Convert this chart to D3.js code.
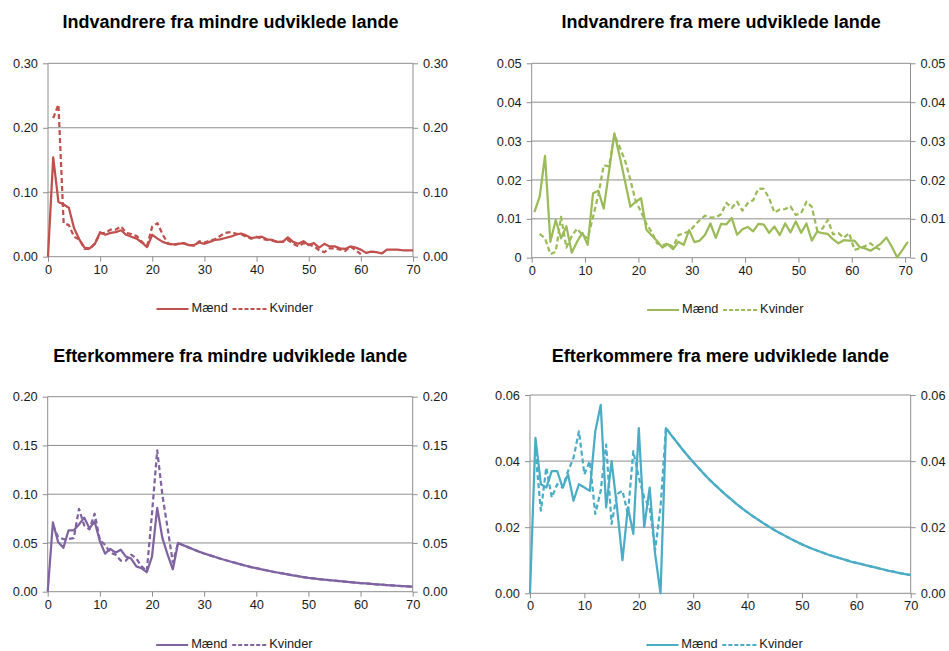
<!DOCTYPE html>
<html><head><meta charset="utf-8">
<script src="https://cdn.jsdelivr.net/npm/d3@7"></script>
<style>
html,body{margin:0;padding:0;background:#fff;}
svg{display:block;font-family:"Liberation Sans",Arial,sans-serif;}
</style></head>
<body><svg id="c" width="949" height="651"></svg>
<script>
const ages = d3.range(0, 71);
const seriesNames = ["Mænd", "Kvinder"];
const titles = [
  "Indvandrere fra mindre udviklede lande",
  "Indvandrere fra mere udviklede lande",
  "Efterkommere fra mindre udviklede lande",
  "Efterkommere fra mere udviklede lande"
];
const yTicks1 = [0, 0.10, 0.20, 0.30];
const yTicks2 = [0, 0.01, 0.02, 0.03, 0.04, 0.05];
const yTicks3 = [0, 0.05, 0.10, 0.15, 0.20];
const yTicks4 = [0, 0.02, 0.04, 0.06];
const xTicks = [0, 10, 20, 30, 40, 50, 60, 70];

// Panel 1: Indvandrere fra mindre udviklede lande
const p1Maend = [0,.154,.085,.081,.076,.044,.027,.014,.013,.020,.038,.034,.037,.038,.041,.034,.031,.028,.022,.015,.034,.028,.023,.020,.019,.020,.021,.018,.018,.022,.020,.023,.026,.027,.029,.031,.034,.036,.033,.029,.030,.031,.027,.026,.023,.023,.030,.023,.020,.024,.018,.021,.014,.020,.016,.016,.013,.012,.016,.014,.011,.006,.008,.007,.005,.011,.011,.011,.010,.010,.010];
const p1Kvinder = [null,.215,.236,.052,.049,.031,.027,.012,.012,.021,.036,.037,.042,.042,.047,.037,.035,.032,.023,.017,.047,.052,.034,.021,.018,.020,.021,.018,.017,.024,.022,.025,.027,.032,.037,.038,.036,.035,.031,.028,.031,.028,.026,.025,.023,.023,.026,.020,.016,.021,.019,.016,.010,.007,.013,.013,.011,.009,.016,.010,.004,null,null,null,null,null,null,null,null,null,null];

// Panel 2: Indvandrere fra mere udviklede lande
const p2Maend = [.0117,.0157,.0262,.0041,.0097,.0050,.0081,.0013,.0041,.0064,.0033,.0166,.0172,.0126,.0222,.0320,.0260,.0196,.0131,.0144,.0153,.0072,.0057,.0043,.0026,.0035,.0022,.0041,.0033,.0071,.0040,.0044,.0059,.0088,.0051,.0087,.0086,.0102,.0059,.0073,.0079,.0068,.0087,.0085,.0064,.0080,.0058,.0088,.0065,.0093,.0064,.0088,.0044,.0067,.0063,.0061,.0047,.0037,.0045,.0044,.0044,.0027,.0024,.0018,.0027,.0037,.0052,.0028,.0001,.0020,.0041];
const p2Kvinder = [null,.0061,.0050,.0009,.0015,.0105,.0026,.0055,.0075,.0058,.0050,.0105,.0162,.0238,.0235,.0316,.0284,.0250,.0200,.0145,.0118,.0087,.0066,.0037,.0031,.0037,.0027,.0058,.0063,.0067,.0082,.0097,.0108,.0103,.0104,.0112,.0141,.0128,.0144,.0121,.0140,.0148,.0178,.0177,.0153,.0116,.0124,.0125,.0132,.0110,.0114,.0144,.0131,.0071,.0075,.0097,.0060,.0063,.0051,.0063,.0020,.0024,.0030,.0037,.0026,.0020,null,null,null,null,null];

// Panel 3: Efterkommere fra mindre udviklede lande
const p3Maend = [0,.071,.051,.045,.063,.063,.069,.076,.065,.072,.052,.039,.044,.040,.043,.036,.034,.026,.024,.020,.036,.086,.055,.038,.023,.0500,.0477,.0455,.0433,.0411,.0392,.0375,.0358,.0341,.0325,.0310,.0295,.0280,.0266,.0253,.0241,.0229,.0218,.0207,.0197,.0187,.0178,.0168,.0159,.0150,.0142,.0136,.0130,.0124,.0118,.0113,.0108,.0103,.0098,.0093,.0089,.0085,.0081,.0076,.0072,.0068,.0065,.0061,.0058,.0055,.0052];
const p3Kvinder = [null,.068,.056,.054,.054,.055,.085,.068,.064,.080,.053,.048,.040,.038,.032,.032,.038,.034,.026,.021,.080,.145,.099,.065,.030,.0500,.0477,.0455,.0433,.0411,.0392,.0375,.0358,.0341,.0325,.0310,.0295,.0280,.0266,.0253,.0241,.0229,.0218,.0207,.0197,.0187,.0178,.0168,.0159,.0150,.0142,.0136,.0130,.0124,.0118,.0113,.0108,.0103,.0098,.0093,.0089,.0085,.0081,.0076,.0072,.0068,.0065,.0061,.0058,.0055,.0052];

// Panel 4: Efterkommere fra mere udviklede lande
const p4Maend = [0,.047,.033,.032,.037,.037,.032,.036,.028,.033,.032,.031,.049,.057,.026,.040,.026,.010,.026,.018,.050,.020,.032,.012,0,.0500,.0478,.0457,.0436,.0416,.0397,.0379,.0361,.0344,.0328,.0313,.0298,.0284,.0270,.0257,.0245,.0233,.0222,.0211,.0201,.0191,.0182,.0173,.0164,.0156,.0148,.0141,.0134,.0128,.0122,.0116,.0111,.0106,.0101,.0096,.0092,.0088,.0084,.0080,.0076,.0072,.0068,.0065,.0061,.0058,.0055];
const p4Kvinder = [null,.043,.025,.038,.029,.033,.032,.037,.041,.049,.036,.040,.024,.031,.045,.021,.030,.031,.024,.043,.035,.029,.026,.013,.026,.0500,.0478,.0457,.0436,.0416,.0397,.0379,.0361,.0344,.0328,.0313,.0298,.0284,.0270,.0257,.0245,.0233,.0222,.0211,.0201,.0191,.0182,.0173,.0164,.0156,.0148,.0141,.0134,.0128,.0122,.0116,.0111,.0106,.0101,.0096,.0092,.0088,.0084,.0080,.0076,.0072,.0068,.0065,.0061,.0058,.0055];

const panels = [
  {title: titles[0], color: "#C0504D", m: p1Maend, k: p1Kvinder, yt: yTicks1, ymax: 0.30, fmt: d3.format(".2f"),
   x0: 48, x1: 413, xmax: 70, off: 0, yTop: 63.3, yBot: 256.7, titleY: 22, legY: 309},
  {title: titles[1], color: "#9BBB59", m: p2Maend, k: p2Kvinder, yt: yTicks2, ymax: 0.05, fmt: d => d === 0 ? "0" : d3.format(".2f")(d),
   x0: 531.7, x1: 910.5, xmax: 71, off: 0.5, yTop: 63.3, yBot: 257.7, titleY: 22, legY: 310},
  {title: titles[2], color: "#8064A2", m: p3Maend, k: p3Kvinder, yt: yTicks3, ymax: 0.20, fmt: d3.format(".2f"),
   x0: 47.7, x1: 412.7, xmax: 70, off: 0, yTop: 396.7, yBot: 591.7, titleY: 356, legY: 645},
  {title: titles[3], color: "#4BACC6", m: p4Maend, k: p4Kvinder, yt: yTicks4, ymax: 0.06, fmt: d3.format(".2f"),
   x0: 530, x1: 910.7, xmax: 70, off: 0, yTop: 395, yBot: 593.3, titleY: 356, legY: 645}
];

const svg = d3.select("#c");
const gridColor = "#8e8e8e";
const fs = 12.8;

panels.forEach(p => {
  const g = svg.append("g");
  const x = d3.scaleLinear().domain([0, p.xmax]).range([p.x0, p.x1]);
  const y = d3.scaleLinear().domain([0, p.ymax]).range([p.yBot, p.yTop]);

  g.append("g").selectAll("line").data(p.yt.filter(d => d > 0)).join("line")
    .attr("x1", p.x0).attr("x2", p.x1)
    .attr("y1", d => y(d)).attr("y2", d => y(d))
    .attr("stroke", gridColor).attr("stroke-width", 1);

  const la = g.append("g").attr("transform", `translate(${p.x0},0)`)
    .call(d3.axisLeft(y).tickValues(p.yt).tickFormat(p.fmt).tickSize(5).tickPadding(5));
  const ra = g.append("g").attr("transform", `translate(${p.x1},0)`)
    .call(d3.axisRight(y).tickValues(p.yt).tickFormat(p.fmt).tickSize(5).tickPadding(5));
  const ba = g.append("g").attr("transform", `translate(0,${p.yBot})`)
    .call(d3.axisBottom(x).tickValues(xTicks).tickFormat(d3.format("d")).tickSize(5).tickPadding(3));
  [la, ra, ba].forEach(a => {
    a.select(".domain").attr("stroke", gridColor);
    a.selectAll(".tick line").attr("stroke", gridColor);
    a.selectAll("text").attr("font-size", fs).attr("fill", "#1a1a1a")
      .attr("font-family", "'Liberation Sans', Arial, sans-serif");
  });
  la.select(".domain").attr("d", `M0,${p.yTop}V${p.yBot}`);
  ra.select(".domain").attr("d", `M0,${p.yTop}V${p.yBot}`);
  ba.select(".domain").attr("d", `M${p.x0},0H${p.x1}`);

  const line = d3.line()
    .defined(d => d[1] !== null)
    .x(d => x(d[0] + p.off)).y(d => y(d[1]));

  g.append("path").datum(ages.map((a, i) => [a, p.m[i]]))
    .attr("d", line).attr("fill", "none").attr("stroke", p.color)
    .attr("stroke-width", 2.25).attr("stroke-linejoin", "round");
  g.append("path").datum(ages.map((a, i) => [a, p.k[i]]))
    .attr("d", line).attr("fill", "none").attr("stroke", p.color)
    .attr("stroke-width", 2.25).attr("stroke-dasharray", "5,3").attr("stroke-linejoin", "round");

  g.append("text").attr("x", (p.x0 + p.x1) / 2).attr("y", p.titleY + 1.5)
    .attr("text-anchor", "middle").attr("dominant-baseline", "middle")
    .attr("font-size", 18).attr("font-weight", "bold").attr("fill", "#000")
    .text(p.title);

  const cx = (p.x0 + p.x1) / 2 + 4;
  const lg = g.append("g").attr("transform", `translate(${cx - 78},${p.legY})`);
  lg.append("line").attr("x1", 0).attr("x2", 32).attr("y1", 0).attr("y2", 0)
    .attr("stroke", p.color).attr("stroke-width", 2);
  lg.append("text").attr("x", 35).attr("y", 0).attr("dominant-baseline", "middle")
    .attr("font-size", fs).attr("fill", "#1a1a1a").text(seriesNames[0]);
  lg.append("line").attr("x1", 76).attr("x2", 110).attr("y1", 0).attr("y2", 0)
    .attr("stroke", p.color).attr("stroke-width", 2).attr("stroke-dasharray", "4,2");
  lg.append("text").attr("x", 113).attr("y", 0).attr("dominant-baseline", "middle")
    .attr("font-size", fs).attr("fill", "#1a1a1a").text(seriesNames[1]);
});
</script></body></html>
